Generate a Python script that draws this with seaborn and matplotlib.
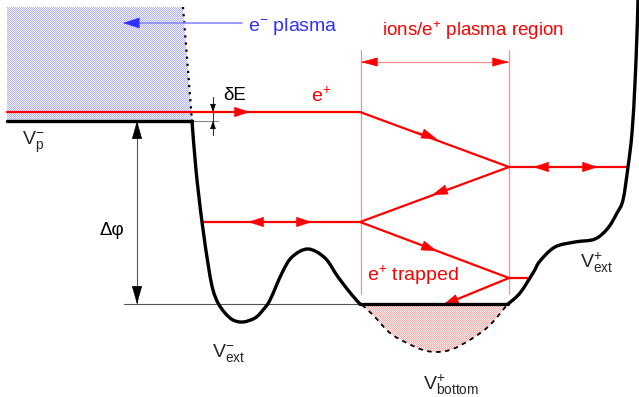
import matplotlib
matplotlib.use("Agg")
import matplotlib.pyplot as plt
import numpy as np
import pandas as pd
import seaborn as sns
from matplotlib.patches import Polygon, PathPatch
from matplotlib.path import Path

sns.set_theme(style="white")
plt.rcParams["font.family"] = ["Liberation Sans", "DejaVu Sans"]
plt.rcParams["mathtext.fontset"] = "custom"
plt.rcParams["mathtext.rm"] = "Liberation Sans"
plt.rcParams["mathtext.it"] = "Liberation Sans:italic"
plt.rcParams["mathtext.bf"] = "Liberation Sans:bold"

# Potential profile along the trap axis (drawing units, y grows downward)
pot_x = [7, 192, 196, 202, 209, 213, 218, 225, 233, 243, 255, 263, 270, 282, 292,
         308, 325, 338, 352, 360,
         508, 520, 533, 540, 555, 575, 595, 608, 617, 623, 628, 632, 635, 637, 638]
pot_y = [121, 121, 170, 222, 270, 290, 303, 313, 320, 322, 318, 310, 300, 273, 257,
         249, 258, 277, 295, 304,
         304, 293, 273, 261, 247, 242, 239, 228, 213, 200, 167, 133, 83, 33, 0]
# indices where the profile has sharp corners
pot_corners = [1, 19, 20]

# Electron plasma column and trapped positron cloud
plasma_x = [7, 183, 192, 7]
plasma_y = [7, 7, 121, 121]
trap_x = [362, 373, 390, 407, 423, 437, 453, 473, 490, 507]
trap_y = [305, 315, 333, 343, 350, 352, 349, 338, 325, 305]

# Positron trajectories: start and end of each leg
leg_x0 = [7, 360, 509, 509, 202, 360, 509, 509]
leg_y0 = [112, 112, 167, 167, 222, 222, 278, 278]
leg_x1 = [360, 509, 627, 360, 360, 509, 528, 443]
leg_y1 = [112, 167, 167, 222, 222, 278, 278, 305]

# Direction markers on the trajectories: tip and a point behind it
head_tip_x = [250, 437, 533, 598, 432, 248, 312, 437, 443]
head_tip_y = [112, 139, 167, 167, 195, 222, 222, 251, 305]
head_from_x = [230, 417, 553, 578, 452, 268, 292, 417, 463]
head_from_y = [112, 131.6, 167, 167, 187.6, 222, 222, 243.5, 296.8]

# Edges of the ions/e+ plasma region
region_x = [361, 509]
region_top, region_bottom, region_dim_y = 50, 294, 62

# Reference levels
vp_level = 121
ext_level = 304
deltaE_x = 213

red = "#ff0000"
pale_red = "#ff8c8c"
blue = "#3030ff"
grey = "#555555"

fig = plt.figure(figsize=(6.39, 3.97), dpi=100)
ax = fig.add_axes([0, 0, 1, 1])


def smooth_path(xs, ys):
    """Cubic curve passing through every listed point (Catmull-Rom)."""
    p = np.column_stack([xs, ys]).astype(float)
    ext = np.vstack([p[0], p, p[-1]])
    verts, codes = [p[0]], [Path.MOVETO]
    for i in range(1, len(ext) - 2):
        p0, p1, p2, p3 = ext[i - 1], ext[i], ext[i + 1], ext[i + 2]
        verts += [p1 + (p2 - p0) / 6, p2 - (p3 - p1) / 6, p2]
        codes += [Path.CURVE4] * 3
    return Path(verts, codes)


def head(tip, frm, color, hl=10.5, hw=3.4):
    ax.annotate("", xy=tip, xytext=frm,
                arrowprops=dict(arrowstyle=f"-|>,head_length={hl},head_width={hw}",
                                mutation_scale=1, color=color, lw=0.4,
                                shrinkA=0, shrinkB=0))


def checker(x0, x1, y0, y1, dark, light, clip):
    w, h = int(round(x1 - x0)), int(round(y1 - y0))
    yy, xx = np.mgrid[0:h, 0:w]
    mask = ((xx + yy) % 2 == 0)[..., None]
    img = np.where(mask, np.array(dark) / 255.0, np.array(light) / 255.0)
    im = ax.imshow(img, extent=(x0, x1, y1, y0), origin="upper",
                   interpolation="nearest", aspect="auto", zorder=1)
    im.set_clip_path(clip)


# electron plasma
plasma_poly = Polygon(np.column_stack([plasma_x, plasma_y]), closed=True,
                      facecolor="none", lw=0, zorder=1)
ax.add_patch(plasma_poly)
checker(min(plasma_x), max(plasma_x), min(plasma_y), max(plasma_y),
        (180, 180, 242), (240, 240, 253), plasma_poly)
ax.plot(plasma_x[1:3], plasma_y[1:3], color="black", lw=1.6, ls=(0, (1, 2.2)), zorder=2)

# trapped positrons
trap_path = smooth_path(trap_x, trap_y)
trap_poly = PathPatch(Path(np.vstack([trap_path.vertices, [trap_x[0], trap_y[0]]]),
                           list(trap_path.codes) + [Path.LINETO]),
                      facecolor="none", lw=0, zorder=1)
ax.add_patch(trap_poly)
checker(min(trap_x), max(trap_x), min(trap_y) - 1, max(trap_y) + 1,
        (247, 170, 170), (255, 240, 240), trap_poly)
ax.add_patch(PathPatch(trap_path, facecolor="none", edgecolor="black", lw=1.3,
                       ls=(0, (2.5, 2.5)), zorder=2))

# electron flow arrow and label
ax.plot([242, 138], [23, 23], color="#8a8aff", lw=1.2, zorder=3)
head((123, 23), (140, 23), blue, hl=11, hw=3.6)
ax.text(248, 31, r"e$^{\mathregular{-}}$ plasma", color=blue, fontsize=14,
        ha="left", va="baseline")

# region limits and dimension line
for rx in region_x:
    ax.plot([rx, rx], [region_top, region_bottom], color=pale_red, lw=0.9, zorder=2)
ax.plot(region_x, [region_dim_y] * 2, color=pale_red, lw=0.9, zorder=2)
head((region_x[0], region_dim_y), (region_x[0] + 16, region_dim_y), red, hl=11, hw=3)
head((region_x[1], region_dim_y), (region_x[1] - 16, region_dim_y), red, hl=11, hw=3)
ax.text(473, 36, r"ions/e$^{\mathregular{+}}$ plasma region", color=red, fontsize=13.5,
        ha="center", va="baseline")

# reference lines
ax.plot([124, 360], [ext_level, ext_level], color=grey, lw=0.8, zorder=2)
ax.plot([192, 218], [vp_level, vp_level], color="#888888", lw=0.8, zorder=2)

# delta-phi arrow
ax.plot([137, 137], [vp_level, ext_level], color=grey, lw=0.8, zorder=2)
head((137, vp_level), (137, vp_level + 14), "black", hl=12, hw=3.4)
head((137, ext_level), (137, ext_level - 14), "black", hl=12, hw=3.4)
ax.text(100, 235, "Δφ", color="black", fontsize=13.5, ha="left", va="baseline")

# delta-E marker
ax.plot([deltaE_x, deltaE_x], [97, 135], color="#333333", lw=0.8, zorder=2)
head((deltaE_x, 112), (deltaE_x, 104), "black", hl=5, hw=1.8)
head((deltaE_x, vp_level), (deltaE_x, 129), "black", hl=5, hw=1.8)
ax.text(223, 100, "δE", color="black", fontsize=13.5, ha="left", va="baseline")

# positron trajectories
legs = pd.DataFrame({"x": leg_x0 + leg_x1, "y": leg_y0 + leg_y1,
                     "leg": list(range(len(leg_x0))) * 2})
sns.lineplot(data=legs, x="x", y="y", units="leg", estimator=None, sort=False,
             color=red, lw=1.6, ax=ax, zorder=4)
for tx, ty, fx, fy in zip(head_tip_x, head_tip_y, head_from_x, head_from_y):
    head((tx, ty), (fx, fy), red)

ax.text(311, 102, r"e$^{\mathregular{+}}$", color=red, fontsize=14, ha="left", va="baseline")
ax.text(367, 281, r"e$^{\mathregular{+}}$ trapped", color=red, fontsize=14,
        ha="left", va="baseline")

# potential profile: straight plateaus, smooth walls between the corners
pot = pd.DataFrame({"x": pot_x, "y": pot_y})
flat = pd.concat([pot.iloc[0:2].assign(seg=0),
                  pot.iloc[pot_corners[1]:pot_corners[2] + 1].assign(seg=1)])
sns.lineplot(data=flat, x="x", y="y", units="seg", sort=False, estimator=None,
             color="black", lw=2.4, ax=ax, zorder=5, solid_capstyle="round")
bounds = [0] + pot_corners + [len(pot_x) - 1]
for a, b in zip(bounds[:-1], bounds[1:]):
    if b - a < 2:
        continue
    ax.add_patch(PathPatch(smooth_path(pot_x[a:b + 1], pot_y[a:b + 1]),
                           facecolor="none", edgecolor="black", lw=2.4,
                           capstyle="round", joinstyle="round", zorder=5))

# potential labels
ax.text(22, 145, r"$\mathregular{V^{-}_{p}}$", fontsize=14, ha="left", va="baseline")
ax.text(212, 357, r"$\mathregular{V^{-}_{ext}}$", fontsize=14, ha="left", va="baseline")
ax.text(423, 390, r"$\mathregular{V^{+}_{bottom}}$", fontsize=14, ha="left", va="baseline")
ax.text(580, 268, r"$\mathregular{V^{+}_{ext}}$", fontsize=14, ha="left", va="baseline")

ax.set_xlabel("")
ax.set_ylabel("")
ax.set_xlim(0, 639)
ax.set_ylim(397, 0)
ax.axis("off")
fig.savefig("out.png", dpi=100)
